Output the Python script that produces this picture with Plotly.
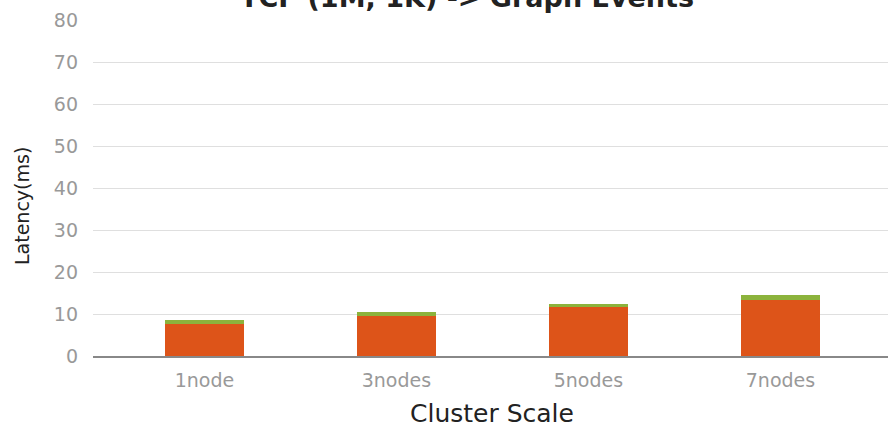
import plotly.graph_objects as go

categories = ["1node", "3nodes", "5nodes", "7nodes"]
main_latency = [7.6, 9.6, 11.6, 13.4]
extra_latency = [1.0, 0.9, 0.9, 1.2]
y_ticks = [0, 10, 20, 30, 40, 50, 60, 70, 80]

W, H = 888, 429
fig = go.Figure()
fig.add_trace(go.Bar(x=categories, y=main_latency, marker=dict(color="#dd5419", line=dict(width=0)),
                     width=0.415, name="main"))
fig.add_trace(go.Bar(x=categories, y=extra_latency, marker=dict(color="#8cb33c", line=dict(width=0)),
                     width=0.415, name="extra"))

fig.update_layout(
    width=W, height=H, barmode="stack", showlegend=False,
    plot_bgcolor="white", paper_bgcolor="white",
    margin=dict(l=93, r=0, t=20, b=73),
    title=dict(text="TCP (1M, 1K) -> Graph Events", x=0.526, xanchor="center",
               y=1 - 7 / H, yanchor="bottom", yref="container",
               font=dict(family="DejaVu Sans", size=27, color="#222", weight="bold")),
    xaxis=dict(range=[-0.58, 3.56], showgrid=False, showline=True, linecolor="#888", linewidth=2,
               ticks="", ticklabelstandoff=6,
               tickfont=dict(family="DejaVu Sans", size=19, color="#999")),
    yaxis=dict(range=[0, 80], tickvals=y_ticks, showgrid=True, gridcolor="#dfdfdf", gridwidth=1,
               zeroline=False, ticks="", ticklabelstandoff=14,
               tickfont=dict(family="DejaVu Sans", size=19, color="#999")),
    annotations=[
        dict(text="Cluster Scale", xref="paper", yref="paper", x=(492 - 93) / (W - 93),
             y=-(413 - 356) / 336, xanchor="center", yanchor="middle", showarrow=False,
             font=dict(family="DejaVu Sans", size=25, color="#222")),
        dict(text="Latency(ms)", xref="paper", yref="paper", x=-(93 - 22) / (W - 93),
             y=(356 - 206) / 336, xanchor="center", yanchor="middle", showarrow=False,
             textangle=-90, font=dict(family="DejaVu Sans", size=19, color="#222")),
    ],
)
fig.write_html("out.html")
